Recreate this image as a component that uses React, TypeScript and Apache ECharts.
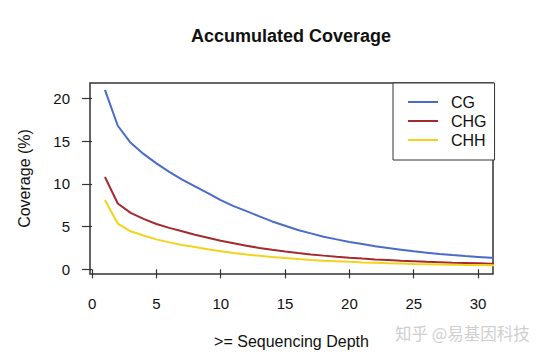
import React, { useEffect, useRef } from "react";
import * as echarts from "echarts";

const depths = [1, 2, 3, 4, 5, 6, 7, 8, 9, 10, 11, 12, 13, 14, 15, 16, 17, 18, 19, 20, 21, 22, 23, 24, 25, 26, 27, 28, 29, 30, 31, 32];
const cgValues = [21.0, 16.8, 14.8, 13.5, 12.4, 11.4, 10.5, 9.7, 8.9, 8.1, 7.4, 6.8, 6.2, 5.6, 5.1, 4.6, 4.2, 3.8, 3.5, 3.2, 2.95, 2.7, 2.5, 2.3, 2.1, 1.95, 1.8, 1.67, 1.55, 1.45, 1.35, 1.25];
const chgValues = [10.8, 7.7, 6.6, 5.9, 5.3, 4.85, 4.45, 4.05, 3.7, 3.35, 3.05, 2.75, 2.5, 2.28, 2.08, 1.9, 1.74, 1.6, 1.47, 1.35, 1.25, 1.16, 1.08, 1.0, 0.94, 0.88, 0.83, 0.78, 0.74, 0.7, 0.66, 0.63];
const chhValues = [8.1, 5.35, 4.45, 3.95, 3.5, 3.15, 2.85, 2.6, 2.35, 2.12, 1.92, 1.74, 1.58, 1.44, 1.32, 1.2, 1.1, 1.01, 0.94, 0.87, 0.81, 0.76, 0.71, 0.67, 0.63, 0.6, 0.57, 0.54, 0.51, 0.49, 0.47, 0.45];
const xTicks = [0, 5, 10, 15, 20, 25, 30];
const yTicks = [0, 5, 10, 15, 20];
const seriesNames = ["CG", "CHG", "CHH"];
const seriesColors = ["#4A6BC8", "#A52A2E", "#F2D31C"];

const FONT = "Liberation Sans, Arial, sans-serif";

export default function App() {
  const ref = useRef<HTMLDivElement>(null);
  useEffect(() => {
    if (!ref.current) return;
    const chart = echarts.init(ref.current, undefined, { renderer: "svg" });
    const all = [cgValues, chgValues, chhValues];
    chart.setOption({
      animation: false,
      backgroundColor: "#ffffff",
      textStyle: { fontFamily: FONT },
      grid: {
        left: 90,
        top: 83,
        right: 50,
        bottom: 84,
        show: true,
        borderColor: "#333333",
        borderWidth: 1.5,
        backgroundColor: "transparent",
        containLabel: false,
      },
      xAxis: {
        type: "value",
        min: -0.16,
        max: 31.16,
        splitLine: { show: false },
        axisLine: { show: false },
        axisTick: { show: true, length: 9, inside: false, customValues: xTicks, lineStyle: { color: "#333", width: 1.2 } },
        axisLabel: { customValues: xTicks, color: "#111", fontSize: 15, margin: 22, fontFamily: FONT },
        name: ">= Sequencing Depth",
        nameLocation: "middle",
        nameGap: 59,
        nameTextStyle: { color: "#111", fontSize: 16, fontFamily: FONT },
      },
      yAxis: {
        type: "value",
        min: -0.55,
        max: 21.8,
        splitLine: { show: false },
        axisLine: { show: false },
        axisTick: { show: true, length: 10, customValues: yTicks, lineStyle: { color: "#333", width: 1.2 } },
        axisLabel: { customValues: yTicks, color: "#111", fontSize: 15, margin: 20, fontFamily: FONT },
        name: "Coverage (%)",
        nameLocation: "middle",
        nameRotate: 90,
        nameGap: 58,
        nameTextStyle: { color: "#111", fontSize: 16, fontFamily: FONT },
      },
      legend: {
        orient: "vertical",
        left: 393,
        top: 83,
        padding: [11, 8, 12, 14],
        itemGap: 3,
        itemWidth: 30,
        itemHeight: 14,
        backgroundColor: "#ffffff",
        borderColor: "#333333",
        borderWidth: 1,
        borderRadius: 0,
        itemStyle: { opacity: 0 },
        textStyle: { fontSize: 16, color: "#111", fontFamily: FONT, padding: [0, 0, 0, 8] },
        data: seriesNames,
      },
      graphic: [
        {
          type: "text",
          x: 291,
          y: 36,
          style: {
            text: "Accumulated Coverage",
            fontSize: 18,
            fontWeight: "bold",
            fontFamily: FONT,
            fill: "#111",
            textAlign: "center",
            textVerticalAlign: "middle",
          },
        },
        {
          type: "text",
          x: 395,
          y: 333,
          style: {
            text: "知乎 @易基因科技",
            fontSize: 16.5,
            fontFamily: "Noto Sans CJK SC, sans-serif",
            fill: "#cfcfcf",
            textAlign: "left",
            textVerticalAlign: "middle",
          },
        },
      ],
      series: seriesNames.map((name, i) => ({
        name,
        type: "line",
        symbol: "none",
        clip: true,
        color: seriesColors[i],
        lineStyle: { color: seriesColors[i], width: 2 },
        data: depths.map((d, j) => [d, all[i][j]]),
      })),
    });
    return () => chart.dispose();
  }, []);
  return <div ref={ref} style={{ width: 543, height: 358, position: "absolute", left: 0, top: 0 }} />;
}
